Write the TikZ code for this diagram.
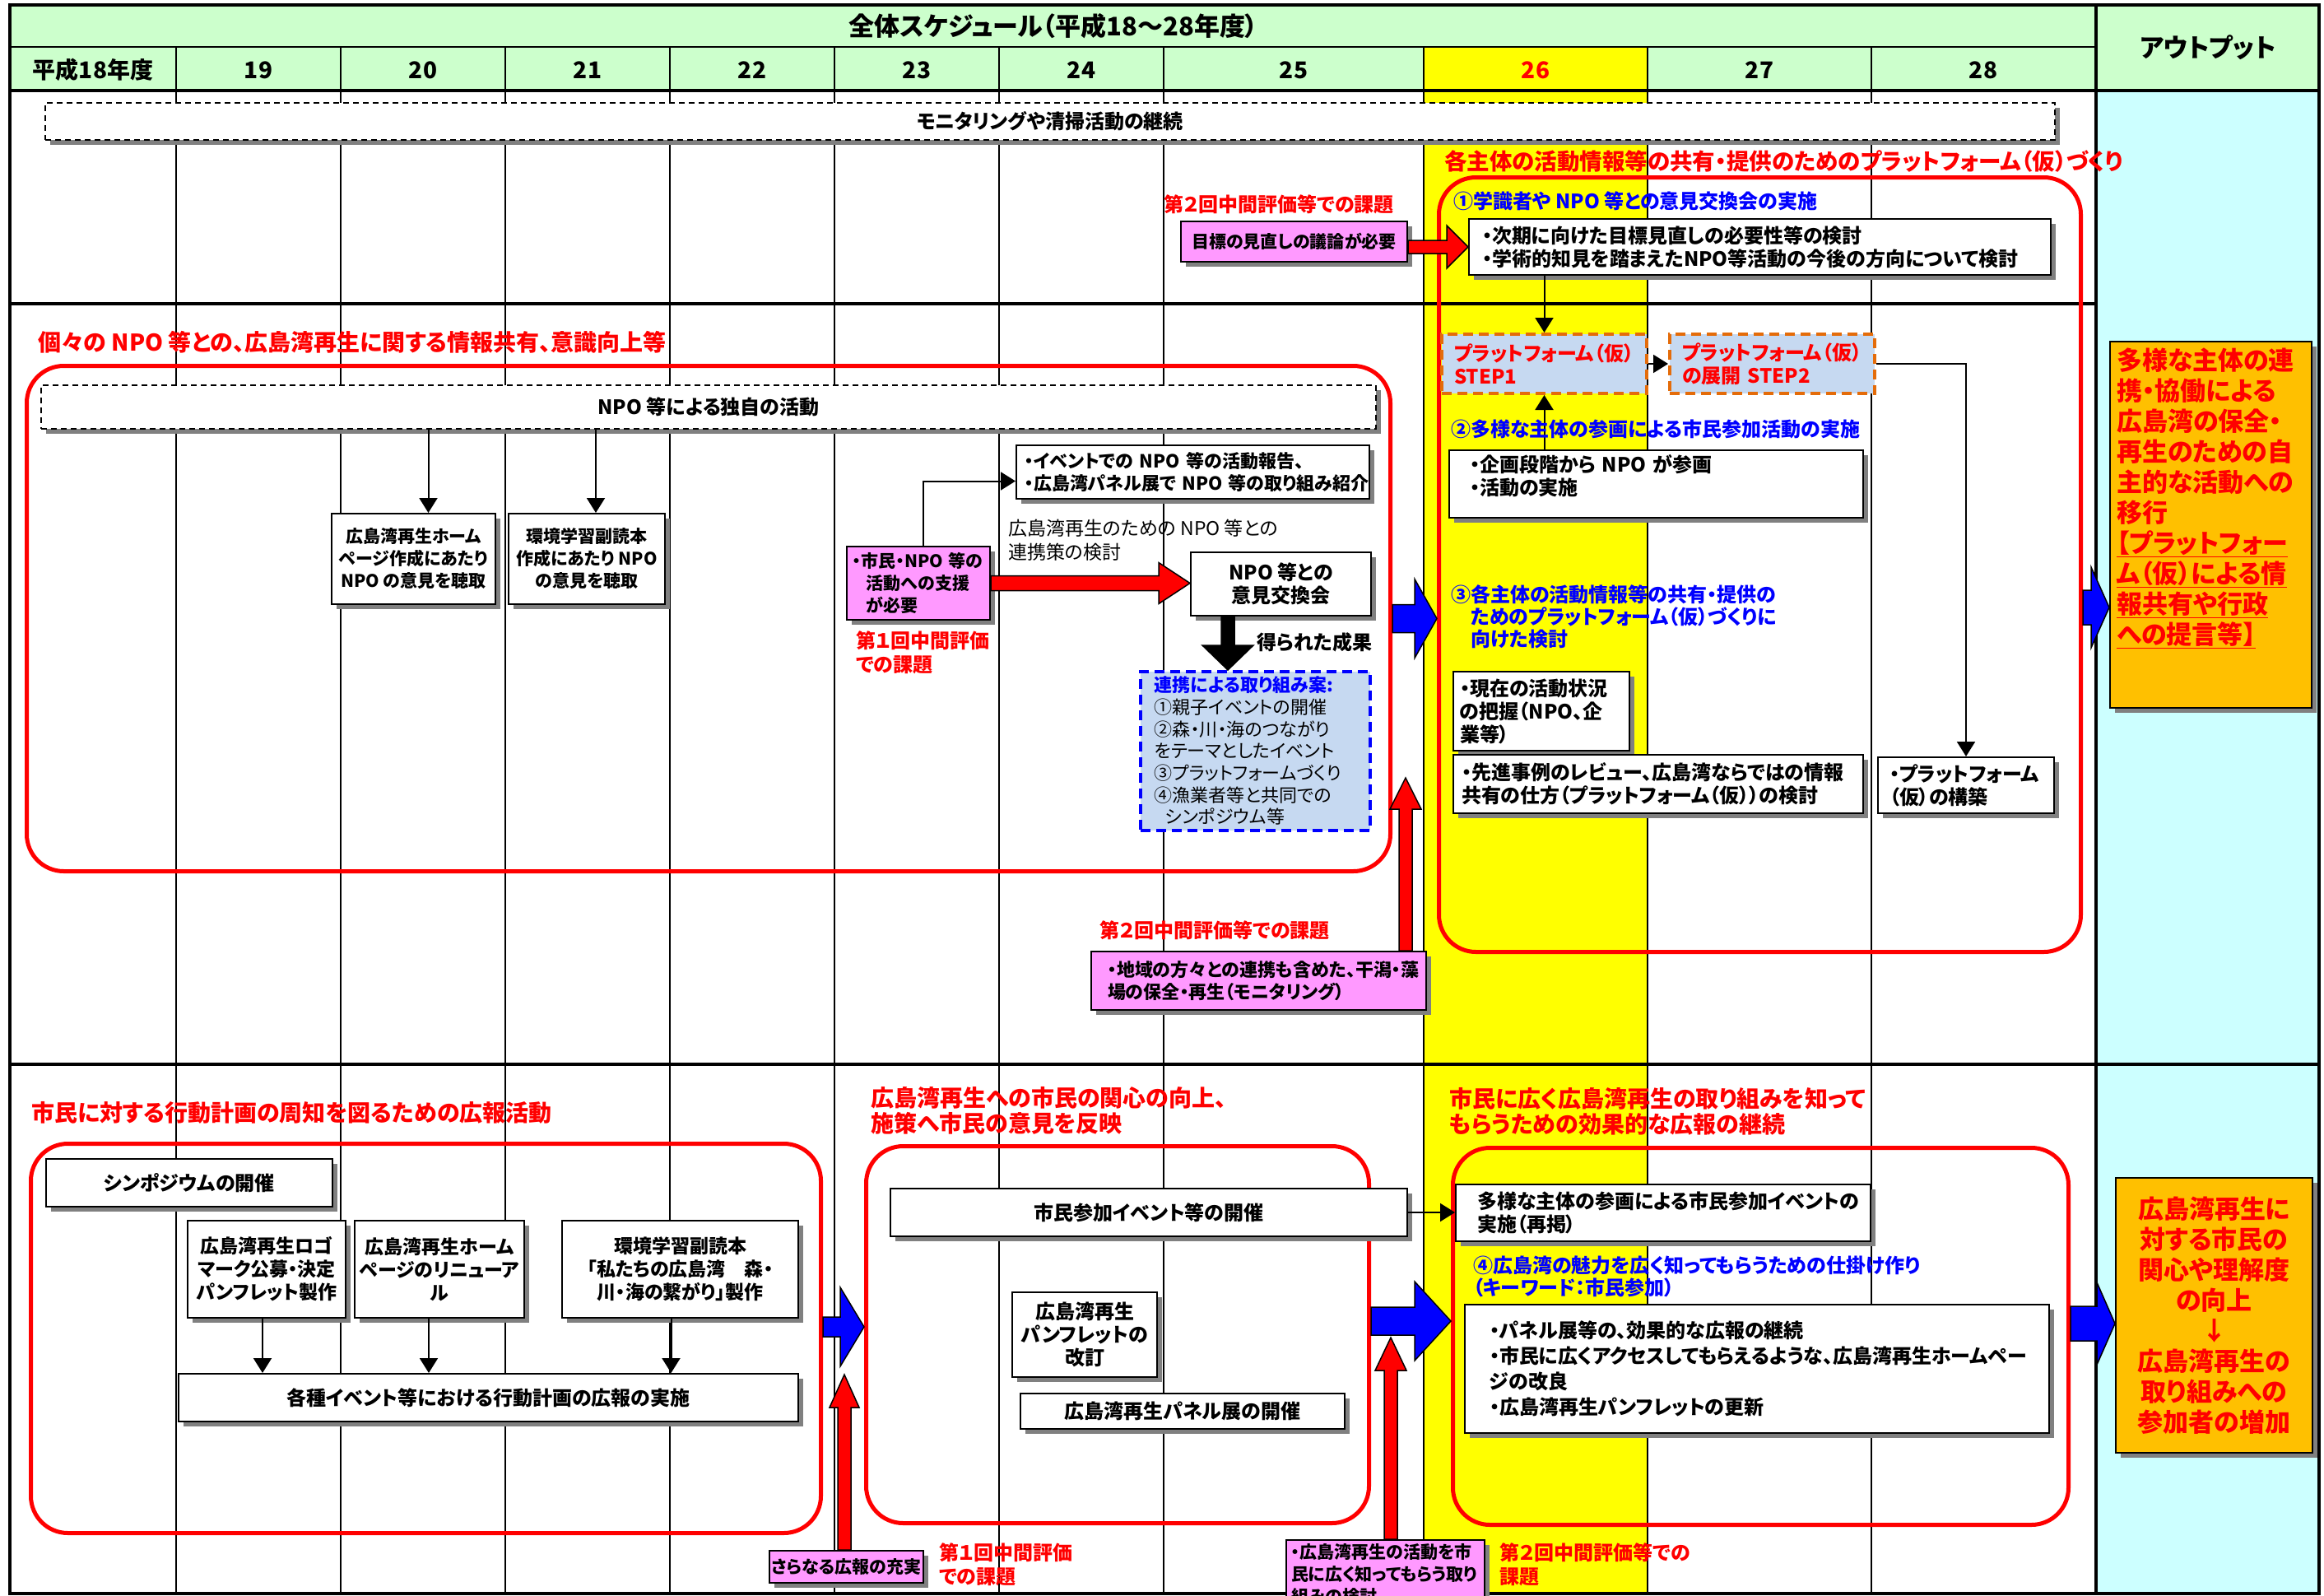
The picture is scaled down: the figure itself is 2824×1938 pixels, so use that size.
\documentclass[tikz,border=0pt]{standalone}
\usepackage{fontspec}
\setmainfont{Noto Sans CJK JP}[RawFeature=+palt]
\usetikzlibrary{calc,shadows,arrows.meta}
\definecolor{hdrgreen}{HTML}{CCFFCC}
\definecolor{outcyan}{HTML}{CCFFFF}
\definecolor{ylw}{HTML}{FFFF00}
\definecolor{pinkc}{HTML}{FF99FF}
\definecolor{orangec}{HTML}{FFC000}
\definecolor{lblue}{HTML}{C6D9F1}
\definecolor{dorange}{HTML}{E46C0A}
\definecolor{redc}{HTML}{FF0000}
\definecolor{bluec}{HTML}{0000FF}
\definecolor{shgray}{HTML}{808080}
% block arrows: #1 start, #2 end, #3 shaft half width, #4 head half width, #5 head length, #6 colour
\newcommand{\rarrow}[6]{\filldraw[fill=#6,draw=black,line width=1.5pt] let \p1=(#1),\p2=(#2) in
 (\x1,\y1+#3)--(\x2-#5,\y1+#3)--(\x2-#5,\y1+#4)--(\x2,\y1)--(\x2-#5,\y1-#4)--(\x2-#5,\y1-#3)--(\x1,\y1-#3)--cycle;}
\newcommand{\uarrow}[6]{\filldraw[fill=#6,draw=black,line width=1.5pt] let \p1=(#1),\p2=(#2) in
 (\x1-#3,\y1)--(\x1-#3,\y2-#5)--(\x1-#4,\y2-#5)--(\x1,\y2)--(\x1+#4,\y2-#5)--(\x1+#3,\y2-#5)--(\x1+#3,\y1)--cycle;}
\newcommand{\darrow}[6]{\filldraw[fill=#6,draw=black,line width=1.5pt] let \p1=(#1),\p2=(#2) in
 (\x1-#3,\y1)--(\x1-#3,\y2+#5)--(\x1-#4,\y2+#5)--(\x1,\y2)--(\x1+#4,\y2+#5)--(\x1+#3,\y2+#5)--(\x1+#3,\y1)--cycle;}
\begin{document}
\begin{tikzpicture}[x=1pt,y=-1pt,
 f30/.style={font=\fontsize{31}{36}\selectfont\bfseries},
 f28/.style={font=\fontsize{28}{32}\selectfont\bfseries},
 f24/.style={font=\fontsize{24}{28}\selectfont\bfseries},
 f23/.style={font=\fontsize{23}{28}\selectfont\bfseries},
 f22/.style={font=\fontsize{22}{27}\selectfont\bfseries},
 f21/.style={font=\fontsize{21}{27}\selectfont\bfseries},
 fo/.style={font=\fontsize{31}{37}\selectfont\bfseries},
 shad/.style={drop shadow={shadow xshift=6pt,shadow yshift=-6pt,fill=shgray,opacity=1}},
 bx/.style={draw=black,line width=2pt,fill=white,anchor=north west,inner sep=0pt,f24,shad},
 dbox/.style={bx,dash pattern=on 7pt off 5pt},
 stepbox/.style={draw=dorange,line width=4pt,dash pattern=on 12pt off 7pt,fill=lblue,anchor=north west,inner sep=0pt,text=redc,align=left,f24},
 bluebox/.style={draw=bluec,line width=3.5pt,dash pattern=on 12pt off 7pt,fill=lblue,anchor=north west,inner sep=0pt,align=left,font=\fontsize{22}{26.7}\selectfont},
 obox/.style={draw=black,line width=2pt,fill=orangec,anchor=north west,inner sep=8pt,text=redc,fo,shad},
 redfr/.style={draw=redc,line width=5pt,rounded corners=45pt,anchor=north west,inner sep=0pt},
 rtitle/.style={text=redc,anchor=west,align=left,inner sep=0pt,font=\fontsize{28}{31}\selectfont\bfseries},
 rlab/.style={text=redc,anchor=west,align=left,inner sep=0pt,font=\fontsize{24}{29}\selectfont\bfseries},
 blab/.style={text=bluec,anchor=west,align=left,inner sep=0pt,font=\fontsize{24}{27}\selectfont\bfseries},
 lab/.style={anchor=west,align=left,inner sep=0pt,f24},
 plain/.style={anchor=west,align=left,inner sep=0pt,font=\fontsize{23}{29}\selectfont},
 conn/.style={draw=black,line width=2pt,-{Triangle[length=18pt,width=22pt]}},
 grid/.style={line width=1.5pt}]
\clip (0,0) rectangle (2824,1938);
% ---------- background ----------
\fill[white] (0,0) rectangle (2824,1938);
\fill[hdrgreen] (12,6) rectangle (2818,110);
\fill[ylw] (1730,57) rectangle (2002,1936);
\fill[outcyan] (2547,110) rectangle (2818,1936);
\draw[grid] (12,57) -- (2547,57);
\foreach \xx in {214,414,614,814,1014,1214,1414,1730,2002,2274}
  \draw[grid] (\xx,57) -- (\xx,1936);
\draw[line width=4pt] (12,110) -- (2818,110);
\draw[line width=4pt] (12,369) -- (2547,369);
\draw[line width=4pt] (12,1293) -- (2818,1293);
\draw[line width=4pt] (2547,6) -- (2547,1936);
\draw[line width=4pt] (12,6) rectangle (2818,1936);
% ---------- header ----------
\node[f30] (ttl) at (1280,32) {全体スケジュール（平成18～28年度）};
\node[f28] (y18) at (113,85) {平成18年度};
\node[f28] (y19) at (314,85) {19};
\node[f28] (y20) at (514,85) {20};
\node[f28] (y21) at (714,85) {21};
\node[f28] (y22) at (914,85) {22};
\node[f28] (y23) at (1114,85) {23};
\node[f28] (y24) at (1314,85) {24};
\node[f28] (y25) at (1572,85) {25};
\node[f28,text=redc] (y26) at (1866,85) {26};
\node[f28] (y27) at (2138,85) {27};
\node[f28] (y28) at (2410,85) {28};
\node[f30] (outh) at (2683,58) {アウトプット};
% ---------- red frames ----------
\node[redfr,minimum width=780pt,minimum height=941pt] (platf) at (1746,213) {};
\node[redfr,minimum width=1657pt,minimum height=614pt] (redB) at (30,442) {};
\node[redfr,minimum width=960pt,minimum height=473pt] (redC) at (35,1387) {};
\node[redfr,minimum width=611pt,minimum height=458pt] (redD) at (1050,1390) {};
\node[redfr,minimum width=748pt,minimum height=458pt] (redE) at (1763,1392) {};
% ---------- top section ----------
\node[dbox,minimum width=2442pt,minimum height=45pt] (mon) at (54,124) {モニタリングや清掃活動の継続};
\node[rtitle,font=\fontsize{27.5}{31}\selectfont\bfseries] (t1) at (1755,196) {各主体の活動情報等の共有・提供のためのプラットフォーム（仮）づくり};
\node[rlab] (e2a) at (1414,248) {第２回中間評価等での課題};
\node[bx,f21,fill=pinkc,minimum width=275pt,minimum height=49pt] (pinkA) at (1434,268) {目標の見直しの議論が必要};
\node[blab] (s1) at (1766,244) {①学識者や~NPO~等との意見交換会の実施};
\node[bx,minimum width=707pt,minimum height=68pt,inner xsep=16pt,text width=675pt,align=left] (whiteA) at (1784,265) {・次期に向けた目標見直しの必要性等の検討\\・学術的知見を踏まえたNPO等活動の今後の方向について検討};
% ---------- platform part ----------
\node[stepbox,minimum width=249pt,minimum height=72pt,inner xsep=15pt,text width=219pt] (step1) at (1750,404) {プラットフォーム（仮）\\STEP1};
\node[stepbox,minimum width=249pt,minimum height=72pt,inner xsep=15pt,text width=219pt] (step2) at (2027,404) {プラットフォーム（仮）\\の展開~STEP2};
\node[bx,minimum width=503pt,minimum height=82pt,inner xsep=25pt,text width=453pt,align=left] (kik) at (1760,546) {\parbox[c][76pt][t]{453pt}{\vspace*{2pt}・企画段階から~NPO~が参画\\・活動の実施}};
\node[bx,minimum width=214pt,minimum height=96pt,inner xsep=8pt,text width=198pt,align=left] (genzai) at (1765,815) {・現在の活動状況\\の把握（NPO、企\\業等）};
\node[bx,minimum width=498pt,minimum height=71pt,inner xsep=10pt,text width=478pt,align=left] (senshin) at (1765,916) {・先進事例のレビュー、広島湾ならではの情報\\共有の仕方（プラットフォーム（仮））の検討};
\node[bx,minimum width=214pt,minimum height=68pt,inner xsep=14pt,text width=186pt,align=left] (pfb) at (2281,919) {・プラットフォーム\\（仮）の構築};
\node[obox,minimum width=245pt,minimum height=445pt] (out1) at (2563,414) {\parbox[c][429pt][t]{229pt}{\raggedright 多様な主体の連\\携・協働による\\広島湾の保全・\\再生のための自\\主的な活動への\\移行\\\underline{【プラットフォー}\\\underline{ム（仮）による情}\\\underline{報共有や行政}\\\underline{への提言等】}}};
% ---------- middle section ----------
\node[rtitle] (t2) at (46,416) {個々の~NPO~等との、広島湾再生に関する情報共有、意識向上等};
\node[dbox,minimum width=1622pt,minimum height=53pt] (npoact) at (49,467) {NPO~等による独自の活動};
\node[bx,f21,minimum width=199pt,minimum height=110pt,align=center] (hpb) at (402,623) {広島湾再生ホーム\\ページ作成にあたり\\NPO~の意見を聴取};
\node[bx,f21,minimum width=190pt,minimum height=110pt,align=center] (fdb) at (617,623) {環境学習副読本\\作成にあたり~NPO\\の意見を聴取};
\node[bx,f22,minimum width=429pt,minimum height=65pt,inner xsep=10pt,text width=409pt,align=left] (ev) at (1234,540) {・イベントでの~NPO~等の活動報告、\\・広島湾パネル展で~NPO~等の取り組み紹介};
\node[bx,f21,fill=pinkc,minimum width=174pt,minimum height=89pt,inner xsep=7pt,text width=160pt,align=left] (pinkB) at (1028,663) {・市民・NPO~等の\\\hspace*{0.8em}活動への支援\\\hspace*{0.8em}が必要};
\node[rlab] (e1a) at (1040,793) {第１回中間評価\\での課題};
\node[plain] (kento) at (1225,656) {広島湾再生のための~NPO~等との\\連携策の検討};
\node[bx,minimum width=219pt,minimum height=77pt,align=center] (npo) at (1446,670) {NPO~等との\\意見交換会};
\node[lab] (seika) at (1527,780) {得られた成果};
\node[bluebox,minimum width=279pt,minimum height=193pt,inner xsep=17pt,text width=245pt] (blueb) at (1384,814) {{\color{bluec}\bfseries 連携による取り組み案:}\\①親子イベントの開催\\②森・川・海のつながり\\をテーマとしたイベント\\③プラットフォームづくり\\④漁業者等と共同での\\\hspace*{0.6em}シンポジウム等};
\node[rlab] (e2b) at (1336,1130) {第２回中間評価等での課題};
\node[bx,f22,fill=pinkc,minimum width=407pt,minimum height=71pt,inner xsep=20pt,text width=367pt,align=left] (pinkC) at (1325,1155) {・地域の方々との連携も含めた、干潟・藻\\場の保全・再生（モニタリング）};
% ---------- bottom section ----------
\node[rtitle] (t3) at (38,1352) {市民に対する行動計画の周知を図るための広報活動};
\node[bx,minimum width=348pt,minimum height=58pt] (sympo) at (55,1407) {シンポジウムの開催};
\node[bx,f23,minimum width=192pt,minimum height=118pt,align=center] (logo) at (227,1482) {広島湾再生ロゴ\\マーク公募・決定\\パンフレット製作};
\node[bx,f23,minimum width=206pt,minimum height=118pt,align=center] (hpr) at (430,1482) {広島湾再生ホーム\\ページのリニューア\\ル};
\node[bx,f23,minimum width=287pt,minimum height=118pt,align=center] (fdk) at (682,1482) {環境学習副読本\\「私たちの広島湾　森・\\川・海の繋がり」製作};
\node[bx,minimum width=753pt,minimum height=58pt] (kakushu) at (216,1668) {各種イベント等における行動計画の広報の実施};
\node[bx,f21,fill=pinkc,minimum width=187pt,minimum height=39pt] (sarani) at (934,1883) {さらなる広報の充実};
\node[rlab] (e1b) at (1141,1901) {第１回中間評価\\での課題};
\node[rtitle] (t4) at (1058,1349) {広島湾再生への市民の関心の向上、\\施策へ市民の意見を反映};
\node[bx,minimum width=628pt,minimum height=58pt] (shimin) at (1081,1443) {市民参加イベント等の開催};
\node[bx,minimum width=176pt,minimum height=103pt,align=center] (panf) at (1229,1569) {広島湾再生\\パンフレットの\\改訂};
\node[bx,minimum width=394pt,minimum height=43pt] (panel) at (1239,1692) {広島湾再生パネル展の開催};
\node[bx,f21,fill=pinkc,minimum width=241pt,minimum height=84pt,inner xsep=6pt,text width=229pt,align=left] (pinkE) at (1562,1870) {・広島湾再生の活動を市\\民に広く知ってもらう取り\\組みの検討};
\node[rlab] (e2c) at (1822,1901) {第２回中間評価等での\\課題};
\node[rtitle] (t5) at (1761,1350) {市民に広く広島湾再生の取り組みを知って\\もらうための効果的な広報の継続};
\node[bx,minimum width=504pt,minimum height=69pt,inner xsep=26pt,text width=452pt,align=left] (tayo) at (1768,1438) {多様な主体の参画による市民参加イベントの\\実施（再掲）};
\node[blab] (s4) at (1790,1551) {④広島湾の魅力を広く知ってもらうための仕掛け作り\\（キーワード：市民参加）};
\node[bx,font=\fontsize{24}{31}\selectfont\bfseries,minimum width=710pt,minimum height=156pt,inner xsep=30pt,text width=650pt,align=left] (pnl2) at (1779,1584) {・パネル展等の、効果的な広報の継続\\・市民に広くアクセスしてもらえるような、広島湾再生ホームペー\\ジの改良\\・広島湾再生パンフレットの更新};
\node[obox,minimum width=239pt,minimum height=334pt,text width=223pt,align=center] (out2) at (2570,1430) {広島湾再生に\\対する市民の\\関心や理解度\\の向上\\↓\\広島湾再生の\\取り組みへの\\参加者の増加};
% ---------- thin connectors ----------
\draw[conn] (step1.north |- whiteA.south) -- (step1.north);
\draw[conn] (step1.east) -- (step2.west);
\draw[conn] (step2.east) -| (pfb.north);
\draw[conn] (step1.south |- kik.north) -- (step1.south);
\draw[conn] ([xshift=18pt]hpb.north |- npoact.south) -- ([xshift=18pt]hpb.north);
\draw[conn] ([xshift=11pt]fdb.north |- npoact.south) -- ([xshift=11pt]fdb.north);
\draw[conn] ([xshift=6pt]pinkB.north) |- ([yshift=-11pt]ev.west);
\draw[conn] ([xshift=-5pt]logo.south) -- ([xshift=-5pt]logo.south |- kakushu.north);
\draw[conn] ([xshift=-13pt]hpr.south) -- ([xshift=-13pt]hpr.south |- kakushu.north);
\draw[conn] ([xshift=-11pt]fdk.south) -- ([xshift=-11pt]fdk.south |- kakushu.north);
\draw[conn] (shimin.east) -- (tayo.west |- shimin.east);
% ---------- block arrows ----------
\coordinate (tipC) at (1708,945);
\coordinate (tipD) at (1026,1670);
\coordinate (tipE) at (1690,1625);
\rarrow{pinkA.east |- whiteA.west}{whiteA.west}{8pt}{26pt}{26pt}{redc}
\rarrow{pinkB.east}{npo.west}{9pt}{25pt}{38pt}{redc}
\darrow{npo.south -| 1492,0}{blueb.north -| 1492,0}{8pt}{31pt}{30pt}{black}
\rarrow{redB.east}{platf.west}{17pt}{48pt}{27pt}{bluec}
\rarrow{platf.east |- 0,738}{out1.west}{21pt}{49pt}{22pt}{bluec}
\uarrow{pinkC.north -| tipC}{tipC}{8pt}{19pt}{38pt}{redc}
\rarrow{redC.east |- 0,1612}{redD.west}{12pt}{48pt}{29pt}{bluec}
\uarrow{sarani.north -| tipD}{tipD}{8pt}{18pt}{40pt}{redc}
\rarrow{redD.east |- 0,1605}{redE.west}{17pt}{48pt}{44pt}{bluec}
\uarrow{pinkE.north -| tipE}{tipE}{8pt}{19pt}{40pt}{redc}
\rarrow{redE.east |- 0,1608}{out2.west}{21pt}{50pt}{22pt}{bluec}
% ---------- labels over lines ----------
\node[blab] (s2) at (1763,521) {②多様な主体の参画による市民参加活動の実施};
\node[blab] (s3) at (1763,749) {③各主体の活動情報等の共有・提供の\\\hspace*{1em}ためのプラットフォーム（仮）づくりに\\\hspace*{1em}向けた検討};
\end{tikzpicture}
\end{document}
